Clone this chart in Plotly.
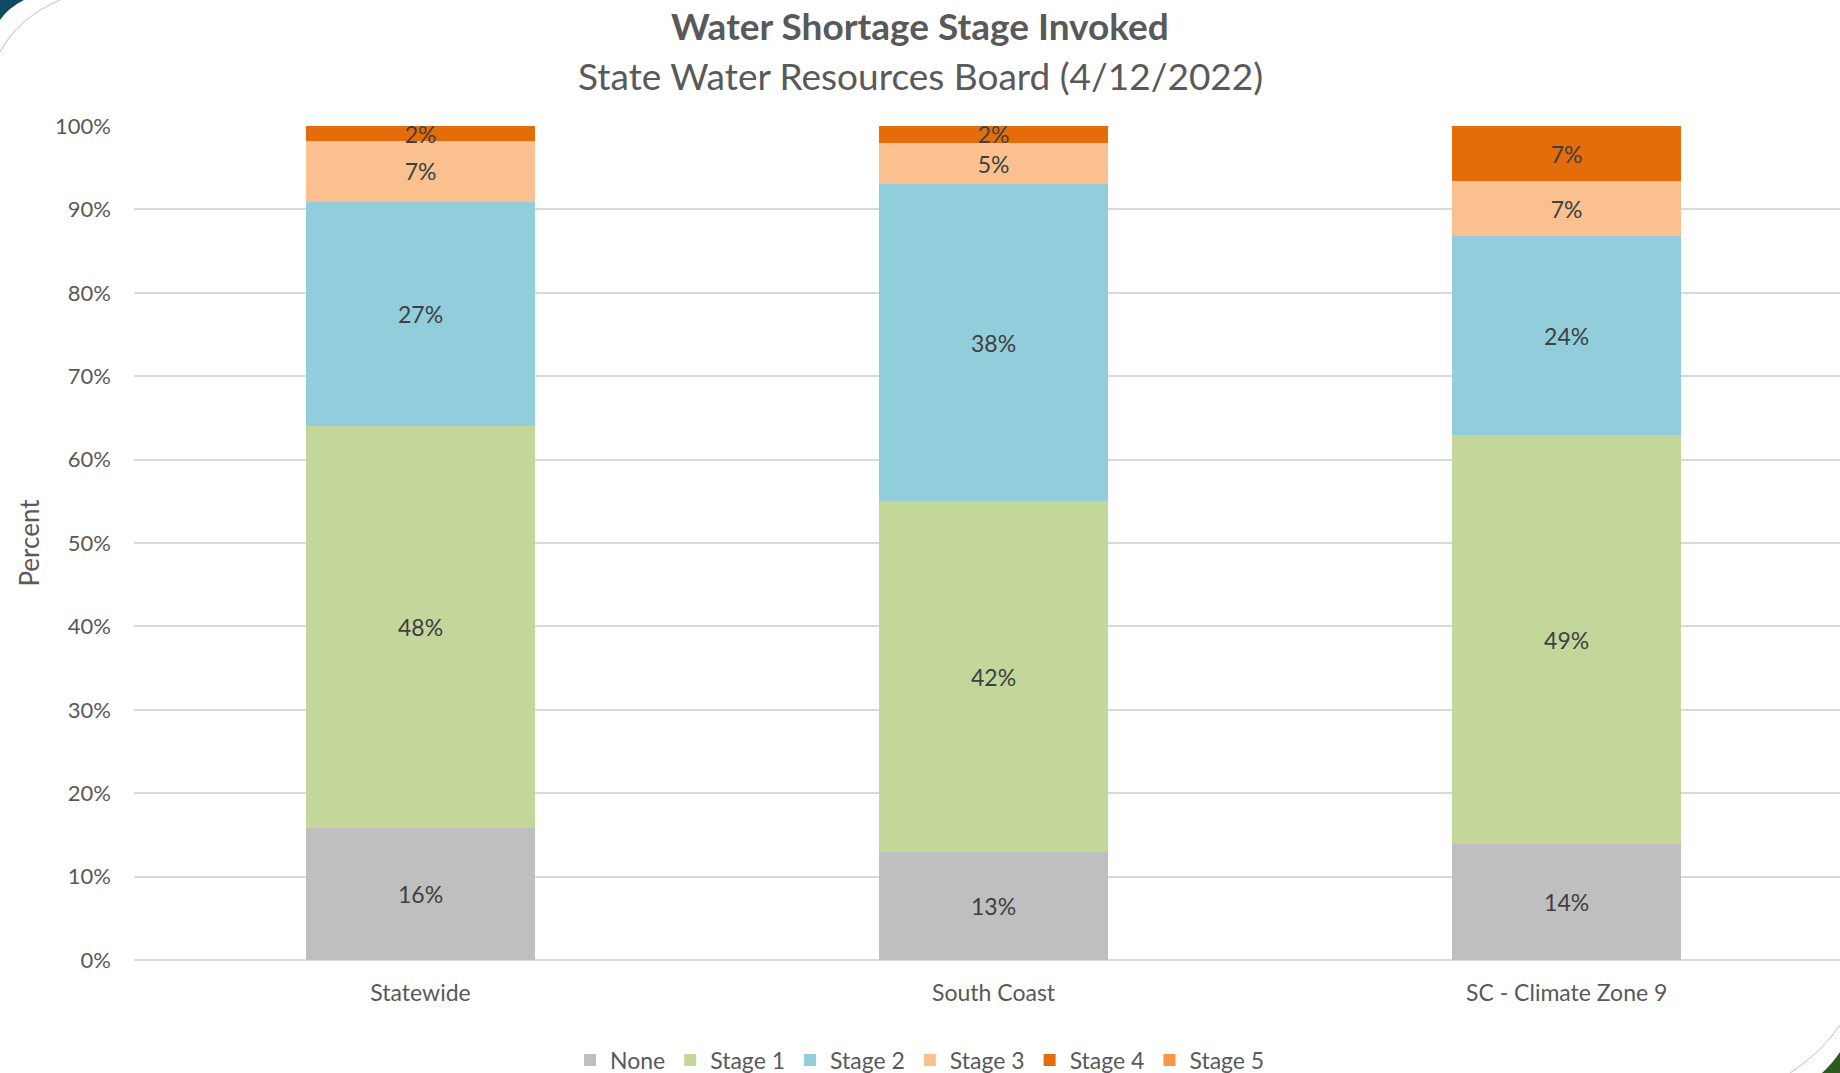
import plotly.graph_objects as go

categories = ["Statewide", "South Coast", "SC - Climate Zone 9"]
series_names = ["None", "Stage 1", "Stage 2", "Stage 3", "Stage 4", "Stage 5"]
none_vals = [15.8, 12.9, 13.9]
stage1_vals = [48.2, 42.1, 49.0]
stage2_vals = [26.9, 38.0, 23.9]
stage3_vals = [7.3, 5.0, 6.6]
stage4_vals = [1.8, 2.0, 6.6]
stage5_vals = [0, 0, 0]
tick_vals = [0, 10, 20, 30, 40, 50, 60, 70, 80, 90, 100]
tick_text = [f"{v}%" for v in tick_vals]

colors = ["#bfbfbf", "#c4d79b", "#92cddc", "#fac090", "#e46c0a", "#f79646"]
all_vals = [none_vals, stage1_vals, stage2_vals, stage3_vals, stage4_vals, stage5_vals]

FONT = "Lato"
W, H = 1840, 1073
L, R, T, B = 134, 0, 126, 113
pw, ph = W - L - R, H - T - B

def px(x):
    return (x - L) / pw

def py(y):
    return (H - B - y) / ph

fig = go.Figure()
for name, vals, col in zip(series_names, all_vals, colors):
    texts = [f"{round(v)}%" if v > 0 else "" for v in vals]
    fig.add_trace(go.Bar(
        name=name, x=categories, y=vals, marker=dict(color=col, line=dict(width=0)),
        text=texts, textposition="inside", insidetextanchor="middle",
        textfont=dict(family=FONT, size=23, color="#404040"),
        constraintext="none", cliponaxis=False,
        hoverinfo="skip",
    ))

fig.update_layout(
    barmode="stack", bargap=0.6,
    width=W, height=H,
    margin=dict(l=L, r=R, t=T, b=B, autoexpand=False),
    paper_bgcolor="white", plot_bgcolor="white",
    font=dict(family=FONT, color="#595959", size=22),
    showlegend=True,
    legend=dict(orientation="h", xref="container", yref="container", x=0.5, xanchor="center",
                y=(H - 1060) / H, yanchor="middle", font=dict(family=FONT, size=23, color="#595959"),
                traceorder="normal", itemwidth=30),
    xaxis=dict(range=[-0.5, 2.477], showgrid=False, showline=False, zeroline=False,
               tickfont=dict(family=FONT, size=23, color="#595959"), ticks="", ticklabelstandoff=17),
    yaxis=dict(range=[0, 100], tickvals=tick_vals, ticktext=tick_text, showgrid=True,
               gridcolor="#d9d9d9", gridwidth=1.5, zeroline=True, zerolinecolor="#d9d9d9", zerolinewidth=1.5,
               showline=False, ticks="", ticklabelstandoff=22,
               tickfont=dict(family=FONT, size=22, color="#595959"),
               title=dict(text="Percent", font=dict(family=FONT, size=26, color="#595959"), standoff=7)),
    annotations=[
        dict(text="<b>Water Shortage Stage Invoked</b>", xref="paper", yref="paper",
             x=px(920), y=py(25), xanchor="center", yanchor="middle", showarrow=False,
             font=dict(family=FONT, size=37, color="#595959")),
        dict(text="State Water Resources Board (4/12/2022)", xref="paper", yref="paper",
             x=px(920), y=py(76), xanchor="center", yanchor="middle", showarrow=False,
             font=dict(family=FONT, size=37, color="#595959")),
    ],
    shapes=[
        dict(type="path", xref="paper", yref="paper", layer="above",
             path=f"M {px(0)},{py(0)} L {px(24)},{py(0)} Q {px(8)},{py(8)} {px(0)},{py(20)} Z",
             fillcolor="#0d4a63", line=dict(width=0)),
        dict(type="path", xref="paper", yref="paper", layer="above",
             path=f"M {px(60)},{py(0)} Q {px(18)},{py(18)} {px(0)},{py(52)}",
             line=dict(color="#bfbfbf", width=1)),
        dict(type="path", xref="paper", yref="paper", layer="above",
             path=f"M {px(1840)},{py(1073)} L {px(1822)},{py(1073)} Q {px(1832)},{py(1064)} {px(1840)},{py(1052)} Z",
             fillcolor="#2d5a1b", line=dict(width=0)),
        dict(type="path", xref="paper", yref="paper", layer="above",
             path=f"M {px(1790)},{py(1073)} Q {px(1822)},{py(1052)} {px(1840)},{py(1025)}",
             line=dict(color="#bfbfbf", width=1)),
    ],
)

fig.write_html("out.html", config={"displayModeBar": False},
               post_script="document.body.style.margin='0';document.body.style.overflow='hidden';")
